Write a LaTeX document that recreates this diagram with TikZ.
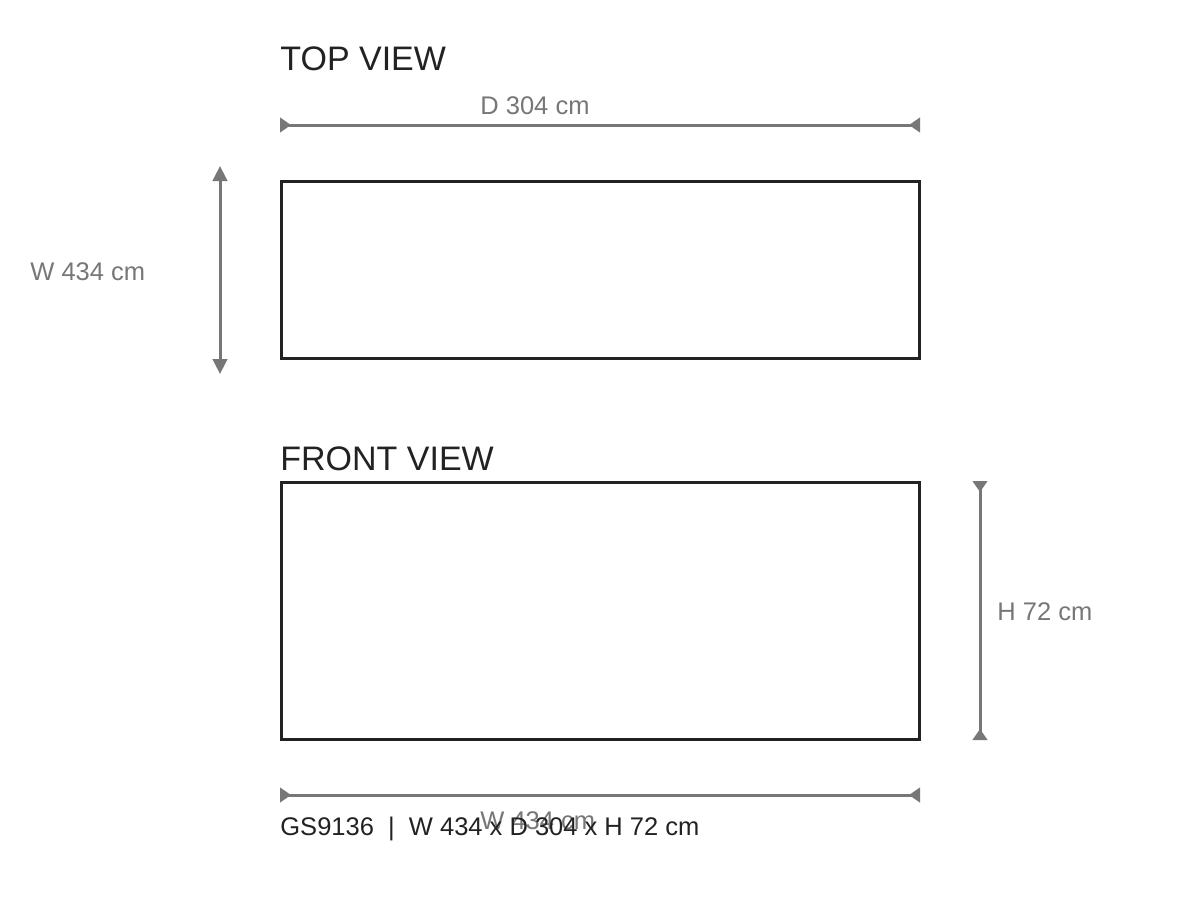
\documentclass[tikz,border=0pt]{standalone}
\usepackage{fontspec}
\setmainfont{Liberation Sans}
\usetikzlibrary{arrows.meta}

\definecolor{dimgray}{HTML}{777777}
\definecolor{outline}{HTML}{222222}

\tikzset{
    viewbox/.style={draw=outline, line width=1.5pt},
    dimline/.style={draw=dimgray, line width=1.5pt},
    dimin/.style={dimline, {Triangle[reversed,length=5.5pt,width=7.2pt]}-{Triangle[reversed,length=5.5pt,width=7.2pt]}},
    dimout/.style={dimline, {Triangle[length=7.5pt,width=7.2pt]}-{Triangle[length=7.5pt,width=7.2pt]}},
    dimlabel/.style={anchor=base west, inner sep=0pt, text=dimgray, font=\fontsize{12.75pt}{15pt}\selectfont},
    viewtitle/.style={anchor=base west, inner sep=0pt, text=outline, font=\fontsize{17pt}{20pt}\selectfont},
    infotext/.style={anchor=base west, inner sep=0pt, text=outline, font=\fontsize{12.75pt}{15pt}\selectfont}
}

\begin{document}
\begin{tikzpicture}[x=0.5pt, y=-0.5pt]
    \useasboundingbox[fill=white] (0,0) rectangle (1200,900);

    % top view
    \node[viewtitle] (toptitle) at (280,70) {TOP VIEW};
    \coordinate (depthL) at (280,125);
    \coordinate (depthR) at (920,125);
    \draw[dimin] (depthL) -- (depthR);
    \node[dimlabel] (depthlabel) at (480,114) {D 304 cm};

    \coordinate (widthT) at (220,166);
    \coordinate (widthB) at (220,374);
    \draw[dimout] (widthT) -- (widthB);
    \node[dimlabel] (widthlabel) at (30,280) {W 434 cm};

    \draw[viewbox] (281,181) rectangle (919,358);

    % front view
    \node[viewtitle] (fronttitle) at (280,470) {FRONT VIEW};
    \draw[viewbox] (281,482) rectangle (919,739);

    \coordinate (heightT) at (980,481);
    \coordinate (heightB) at (980,740);
    \draw[dimin] (heightT) -- (heightB);
    \node[dimlabel] (heightlabel) at (997,620) {H 72 cm};

    \coordinate (frontL) at (280,795);
    \coordinate (frontR) at (920,795);
    \draw[dimin] (frontL) -- (frontR);
    \node[dimlabel] (frontlabel) at (480,829) {W 434 cm};

    % product line
    \node[infotext] (info) at (280,835) {GS9136\ \ |\ \ W 434 x D 304 x H 72 cm};
\end{tikzpicture}
\end{document}
